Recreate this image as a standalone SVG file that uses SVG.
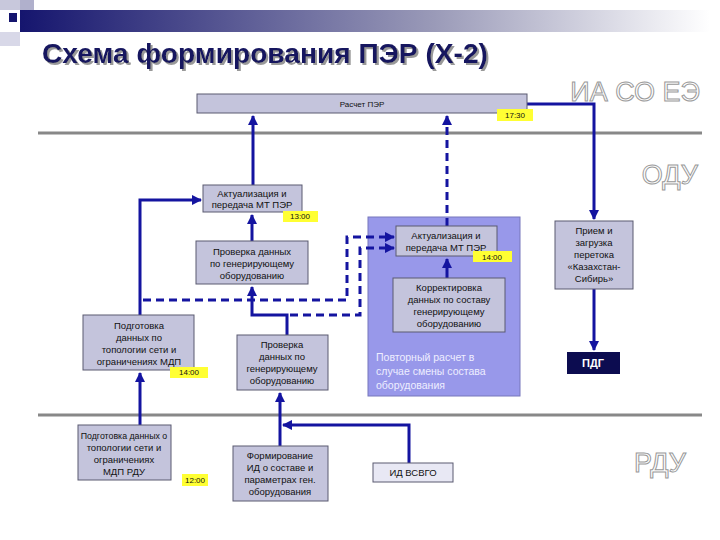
<svg xmlns="http://www.w3.org/2000/svg" width="720" height="540" viewBox="0 0 720 540">
<defs>
<linearGradient id="hg" x1="0" x2="1" y1="0" y2="0">
<stop offset="0" stop-color="#15156e"/><stop offset="0.6" stop-color="#9a9ab8"/><stop offset="1" stop-color="#ffffff"/>
</linearGradient>
<filter id="sh" x="-5%" y="-20%" width="110%" height="150%"><feDropShadow dx="2" dy="2" stdDeviation="0.5" flood-color="#999"/></filter>
<marker id="ar" viewBox="0 0 10 10" refX="9" refY="5" markerWidth="3.5" markerHeight="3.5" orient="auto-start-reverse" markerUnits="strokeWidth">
<path d="M0,0 L10,5 L0,10 z" fill="#1414a0"/>
</marker>
<style>
.b{fill:#c4c4dc;stroke:#5a5a70;stroke-width:1}
.t{font-family:"Liberation Sans",Arial,sans-serif;font-size:9.5px;fill:#111;text-anchor:middle}
.tm{fill:#ffff33}
.tt{font-family:"Liberation Sans",Arial,sans-serif;font-size:8px;fill:#111;text-anchor:middle}
.c{fill:none;stroke:#1414a0;stroke-width:3}
.d{fill:none;stroke:#1414a0;stroke-width:3;stroke-dasharray:8,5}
.z{font-family:"Liberation Sans",Arial,sans-serif;fill:#fff;stroke:#999;stroke-width:1;text-anchor:end;font-size:27px}
</style>
</defs>
<rect width="720" height="540" fill="#fff"/>
<rect x="20" y="10" width="690" height="22" fill="url(#hg)"/>
<rect x="0" y="0" width="20" height="10" fill="#c8c8dc"/>
<rect x="20" y="0" width="14" height="10" fill="#b0b0cc"/>
<rect x="0" y="32" width="20" height="14" fill="#d8d8e8"/>
<rect x="9" y="13" width="8" height="9" fill="#15156e"/>
<text x="42" y="63" font-family="Liberation Sans,Arial,sans-serif" font-size="27" font-weight="bold" fill="#14145e" textLength="446" lengthAdjust="spacingAndGlyphs" filter="url(#sh)">Схема формирования ПЭР (Х-2)</text>
<text class="z" x="700" y="101">ИА СО ЕЭ</text>
<text class="z" x="698" y="184">ОДУ</text>
<text class="z" x="686" y="472">РДУ</text>
<line x1="38" y1="133" x2="702" y2="133" stroke="#888" stroke-width="3"/>
<line x1="38" y1="415" x2="702" y2="415" stroke="#888" stroke-width="3"/>

<g id="panel"><rect x="368" y="217" width="152" height="179" fill="#9898ea" stroke="#7777bb"/>
<text font-family="Liberation Sans,Arial,sans-serif" font-size="10.5" fill="#eef"><tspan x="376" y="361">Повторный расчет в</tspan><tspan x="376" y="375">случае смены состава</tspan><tspan x="376" y="389">оборудования</tspan></text></g>

<g id="connectors">
<path class="c" d="M253,185 V116" marker-end="url(#ar)"/>
<path class="c" d="M252,241 V215" marker-end="url(#ar)"/>
<path class="c" d="M140,315 V200 H201" marker-end="url(#ar)"/>
<path class="c" d="M140,425 V373" marker-end="url(#ar)"/>
<path class="c" d="M287,335 V315 H252 V287" marker-end="url(#ar)"/>
<path class="d" d="M143,300 H347 V237 H394" marker-end="url(#ar)"/>
<path class="d" d="M290,315 H360 V248 H394" marker-end="url(#ar)"/>
<path class="d" d="M447,226 V116" marker-end="url(#ar)"/>
<path class="c" d="M447,278 V259" marker-end="url(#ar)"/>
<path class="c" d="M527,104 H594 V219" marker-end="url(#ar)"/>
<path class="c" d="M594,289 V350" marker-end="url(#ar)"/>
<path class="c" d="M280,446 V393" marker-end="url(#ar)"/>
<path class="c" d="M409,463 V425 H283" marker-end="url(#ar)"/>
</g>

<g id="raschet"><rect class="b" x="197" y="94" width="330" height="19"/><text class="tt" x="362" y="107">Расчет ПЭР</text>
<rect class="tm" x="497" y="109" width="36" height="12"/><text class="tt" x="515" y="118">17:30</text></g>

<g id="aktual1"><rect class="b" x="203" y="185" width="99" height="27"/><text class="t" x="252" y="197">Актуализация и</text><text class="t" x="252" y="208">передача МТ ПЭР</text>
<rect class="tm" x="283" y="211" width="35" height="11"/><text class="tt" x="300" y="219">13:00</text></g>

<g id="prov1"><rect class="b" x="196" y="241" width="112" height="43"/><text class="t" x="252" y="255">Проверка данных</text><text class="t" x="252" y="267">по генерирующему</text><text class="t" x="252" y="279">оборудованию</text></g>

<g id="aktual2"><rect class="b" x="396" y="226" width="101" height="30"/><text class="t" x="446" y="239">Актуализация и</text><text class="t" x="446" y="251">передача МТ ПЭР</text>
<rect class="tm" x="473" y="251" width="39" height="11"/><text class="tt" x="492" y="260">14:00</text></g>

<g id="korr"><rect class="b" x="393" y="278" width="112" height="54"/><text class="t" x="449" y="291">Корректировка</text><text class="t" x="449" y="303">данных по составу</text><text class="t" x="449" y="315">генерирующему</text><text class="t" x="449" y="327">оборудованию</text></g>

<g id="podg1"><rect class="b" x="83" y="315" width="111" height="55"/><text class="t" x="139" y="329">Подготовка</text><text class="t" x="139" y="341">данных по</text><text class="t" x="139" y="353">топологии сети и</text><text class="t" x="139" y="365">ограничениях МДП</text>
<rect class="tm" x="170" y="367" width="38" height="11"/><text class="tt" x="189" y="375">14:00</text></g>

<g id="prov2"><rect class="b" x="237" y="335" width="91" height="55"/><text class="t" x="282" y="348">Проверка</text><text class="t" x="282" y="360">данных по</text><text class="t" x="282" y="372">генерирующему</text><text class="t" x="282" y="384">оборудованию</text></g>

<g id="podg2"><rect class="b" x="78" y="425" width="93" height="55"/><text class="t" x="124" y="439" style="font-size:8.8px">Подготовка данных о</text><text class="t" x="124" y="451">топологии сети и</text><text class="t" x="124" y="463">ограничениях</text><text class="t" x="124" y="475">МДП РДУ</text>
<rect class="tm" x="182" y="474" width="26" height="12"/><text class="tt" x="195" y="483">12:00</text></g>

<g id="form"><rect class="b" x="233" y="446" width="95" height="55"/><text class="t" x="280" y="459">Формирование</text><text class="t" x="280" y="471">ИД о составе и</text><text class="t" x="280" y="483">параметрах ген.</text><text class="t" x="280" y="495">оборудования</text></g>

<g id="vsvgo"><rect x="373" y="463" width="80" height="19" fill="#e8e8f4" stroke="#5a5a70"/><text class="t" x="413" y="476">ИД ВСВГО</text></g>

<g id="priem"><rect class="b" x="555" y="221" width="78" height="68"/><text class="t" x="594" y="234">Прием и</text><text class="t" x="594" y="246">загрузка</text><text class="t" x="594" y="258">перетока</text><text class="t" x="594" y="270">«Казахстан-</text><text class="t" x="594" y="282">Сибирь»</text></g>

<g id="pdg"><rect x="567" y="352" width="53" height="22" fill="#0c0c50"/><text x="593" y="367" font-family="Liberation Sans,Arial,sans-serif" font-size="11" font-weight="bold" fill="#fff" text-anchor="middle">ПДГ</text></g>
</svg>
